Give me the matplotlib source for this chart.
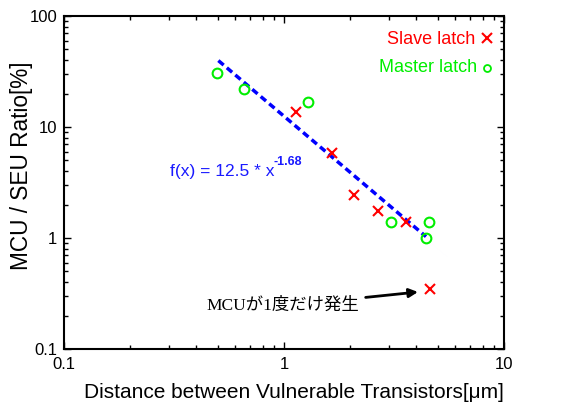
import matplotlib
matplotlib.use("Agg")
import matplotlib.pyplot as plt
import numpy as np
from matplotlib.ticker import LogLocator, NullFormatter, FixedLocator, FixedFormatter

plt.rcParams['font.family'] = ['Liberation Sans', 'DejaVu Sans']

# Data
slave_x = [1.13, 1.65, 2.09, 2.67, 3.60, 4.59]
slave_y = [13.6, 5.87, 2.44, 1.75, 1.39, 0.349]
master_x = [0.498, 0.658, 1.28, 3.06, 4.56, 4.43]
master_y = [30.6, 22.1, 16.7, 1.38, 1.38, 1.0]
fit_a = 12.5
fit_b = -1.68
fit_range = [0.503, 4.42]

W, H = 583, 407
def fx_(px):
    return px / W
def fy_(py):
    return 1 - py / H

fig = plt.figure(figsize=(5.83, 4.07), dpi=100)
ax = fig.add_axes([0.1098, 0.1425, 0.7547, 0.8182])

fx = np.logspace(np.log10(fit_range[0]), np.log10(fit_range[1]), 50)
ax.plot(fx, fit_a * fx ** fit_b, color='#0000ff', lw=2.5, ls=(0, (2, 1.2)), zorder=2)
ax.plot(slave_x, slave_y, ls='none', marker='x', color='#ff0000', ms=7.5, mew=1.5, zorder=3)
ax.plot(master_x, master_y, ls='none', marker='o', mfc='none', mec='#00ee00', ms=7, mew=1.5, zorder=3)

ax.set_xscale('log')
ax.set_yscale('log')
ax.set_xlim(0.1, 10)
ax.set_ylim(0.1, 100)

ax.xaxis.set_major_locator(FixedLocator([0.1, 1, 10]))
ax.xaxis.set_major_formatter(FixedFormatter(['0.1', '1', '10']))
ax.yaxis.set_major_locator(FixedLocator([0.1, 1, 10, 100]))
ax.yaxis.set_major_formatter(FixedFormatter(['0.1', '1', '10', '100']))
ax.xaxis.set_minor_locator(LogLocator(base=10, subs=np.arange(2, 10)))
ax.yaxis.set_minor_locator(LogLocator(base=10, subs=np.arange(2, 10)))
ax.xaxis.set_minor_formatter(NullFormatter())
ax.yaxis.set_minor_formatter(NullFormatter())

ax.tick_params(which='both', direction='in', top=True, right=True, labelsize=12, width=1)
ax.tick_params(which='major', length=5)
ax.tick_params(which='minor', length=3)
ax.tick_params(axis='y', pad=5)
ax.tick_params(axis='x', pad=6)
for s in ax.spines.values():
    s.set_linewidth(1.5)

fig.text(fx_(504), fy_(393), 'Distance between Vulnerable Transistors[\u03bcm]', fontsize=15,
         ha='right', va='center')
fig.text(fx_(22), fy_(166), 'MCU / SEU Ratio[%]', fontsize=16.3, rotation=90,
         ha='center', va='center')

# legend-like texts
fig.text(fx_(475), fy_(39), 'Slave latch', fontsize=13, color='#ff0000', ha='right', va='center')
fig.text(fx_(477), fy_(68), 'Master latch', fontsize=13, color='#00ee00', ha='right', va='center')
fig.add_artist(plt.Line2D([fx_(487)], [fy_(38)], marker='x', color='#ff0000', ms=7, mew=1.5, ls='none'))
fig.add_artist(plt.Line2D([fx_(487)], [fy_(68)], marker='o', mfc='none', mec='#00ee00', ms=5, mew=1.3, ls='none'))

fig.text(fx_(170), fy_(172), 'f(x) = 12.5 * x', fontsize=12.5, color='#1a1aff', ha='left', va='center')
fig.text(fx_(273), fy_(162), '-1.68', fontsize=9, fontweight='bold', color='#1a1aff', ha='left', va='center')

ax.annotate('MCUが1度だけ発生', xy=(fx_(418), fy_(292)), xycoords='figure fraction',
            xytext=(fx_(206), fy_(306)), textcoords='figure fraction',
            fontsize=12.5, family=['Liberation Serif', 'Noto Sans CJK JP'], ha='left', va='center',
            arrowprops=dict(arrowstyle='-|>', color='black', lw=2, shrinkA=3, shrinkB=0, mutation_scale=13))

fig.savefig('out.png', dpi=100)
